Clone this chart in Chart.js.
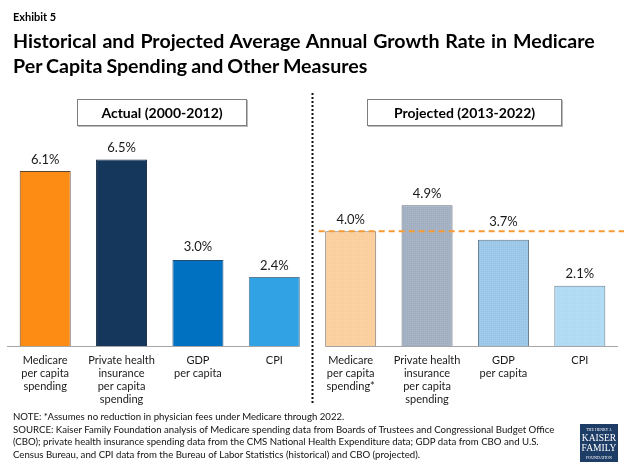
<!DOCTYPE html>
<html>
<head>
<meta charset="utf-8">
<script src="https://cdn.jsdelivr.net/npm/chart.js@4"></script>
<style>
    html, body { margin: 0; padding: 0; background: #fff; }
    #page { position: relative; width: 624px; height: 468px; overflow: hidden; font-family: Lato, sans-serif; color: #000; }
    #page canvas { position: absolute; left: 0; top: 0; }
    .txt { position: absolute; white-space: nowrap; }
    #exhibit { left: 13px; top: 10px; font-size: 11px; font-weight: 700; line-height: 14px; }
    #title { left: 13px; top: 28px; font-size: 19.6px; font-weight: 700; line-height: 25px; }
    .box { position: absolute; top: 99px; height: 25px; line-height: 25px; border: 1px solid #7f7f7f; box-shadow: 1px 1px 0 #bbb; text-align: center; font-size: 14px; font-weight: 700; background: #fff; }
    #note { left: 13px; top: 410px; font-size: 9.65px; line-height: 12.6px; color: #111; }
    #logo { position: absolute; left: 580px; top: 424px; width: 38px; height: 38px; background: #1d3c66; color: #fff; font-family: "Liberation Serif", serif; text-align: center; }
    #logo div { position: absolute; left: 0; width: 38px; white-space: nowrap; }
</style>
</head>
<body>
<div id="page">
    <canvas id="growth-chart" width="624" height="468"></canvas>
    <div class="txt" id="exhibit">Exhibit 5</div>
    <div class="txt" id="title"><span style="word-spacing:1.1px">Historical and Projected Average Annual Growth Rate in Medicare</span><br><span style="word-spacing:-0.7px">Per Capita Spending and Other Measures</span></div>
    <div class="box" style="left:77px;width:168px">Actual (2000-2012)</div>
    <div class="box" style="left:367px;width:193px">Projected (2013-2022)</div>
    <div class="txt" id="note">NOTE: *Assumes no reduction in physician fees under Medicare through 2022.<br>SOURCE: Kaiser Family Foundation analysis of Medicare spending data from Boards of Trustees and Congressional Budget Office<br>(CBO); private health insurance spending data from the CMS National Health Expenditure data; GDP data from CBO and U.S.<br>Census Bureau, and CPI data from the Bureau of Labor Statistics (historical) and CBO (projected).</div>
    <div id="logo">
        <div style="top:3px;font-size:4px">THE HENRY J.</div>
        <div style="top:9px;font-size:9.5px;line-height:10px">KAISER</div>
        <div style="top:19px;font-size:9.5px;line-height:10px">FAMILY</div>
        <div style="top:31px;font-size:4px">FOUNDATION</div>
    </div>
</div>
<script>
const categories = [
    ['Medicare', 'per capita', 'spending'],
    ['Private health', 'insurance', 'per capita', 'spending'],
    ['GDP', 'per capita'],
    'CPI',
    ['Medicare', 'per capita', 'spending*'],
    ['Private health', 'insurance', 'per capita', 'spending'],
    ['GDP', 'per capita'],
    'CPI'
];
const actualGrowth = [6.1, 6.5, 3.0, 2.4];
const projectedGrowth = [4.0, 4.9, 3.7, 2.1];
const referenceLine = 4.0;

const actualColors = ['#fd8c14', '#15375c', '#0070c0', '#31a2e3'];
const actualBorders = ['#5c4632', '#12263f', '#1f4e79', '#5b7c94'];
const projectedColors = ['#fdd09f', '#a3b1c3', '#9cc8e9', '#b2dcf5'];
const projectedBorders = ['#7d7d78', '#666f7a', '#5f7486', '#6a8090'];

// gap between bar top and its label; 3.7% sits higher to clear the dashed line
const labelLift = [11.5, 11.5, 13.5, 11.5, 11.5, 11.5, 17.5, 12];

// projected bars have a fine stipple over the base colour
function stipple(color) {
    const tile = document.createElement('canvas');
    tile.width = 2;
    tile.height = 2;
    const c = tile.getContext('2d');
    c.fillStyle = color;
    c.fillRect(0, 0, 2, 2);
    c.fillStyle = 'rgba(255, 255, 255, 0.07)';
    c.fillRect(0, 0, 1, 1);
    c.fillStyle = 'rgba(0, 0, 0, 0.02)';
    c.fillRect(1, 1, 1, 1);
    return c.createPattern(tile, 'repeat');
}

const annotations = {
    id: 'annotations',
    afterDatasetsDraw(chart) {
        const { ctx, scales: { x, y } } = chart;
        const bars = chart.getDatasetMeta(0).data;
        const base = y.getPixelForValue(0);
        ctx.save();

        // baseline, one piece per panel
        ctx.strokeStyle = '#a6a6a6';
        ctx.lineWidth = 1;
        ctx.beginPath();
        ctx.moveTo(chart.chartArea.left, base + 0.5);
        ctx.lineTo(bars[3].x + bars[3].width / 2, base + 0.5);
        ctx.moveTo(bars[4].x - bars[4].width / 2, base + 0.5);
        ctx.lineTo(chart.chartArea.right, base + 0.5);
        ctx.stroke();

        // value labels
        ctx.fillStyle = '#1a1a1a';
        ctx.font = '13px Lato';
        ctx.textAlign = 'center';
        ctx.textBaseline = 'middle';
        bars.forEach((bar, i) => {
            ctx.fillText(chart.data.datasets[0].data[i].toFixed(1) + '%', bar.x, bar.y - labelLift[i]);
        });

        // panel divider
        const mid = (bars[3].x + bars[4].x) / 2;
        ctx.strokeStyle = '#111';
        ctx.lineWidth = 2;
        ctx.setLineDash([2, 2]);
        ctx.beginPath();
        ctx.moveTo(mid, 93);
        ctx.lineTo(mid, 403);
        ctx.stroke();

        // medicare projected level
        const refY = y.getPixelForValue(referenceLine);
        ctx.strokeStyle = '#f79a33';
        ctx.lineWidth = 2;
        ctx.setLineDash([6, 4]);
        ctx.beginPath();
        ctx.moveTo(bars[4].x - 32, refY);
        ctx.lineTo(chart.width, refY);
        ctx.stroke();
        ctx.restore();
    }
};

const growthCanvas = document.getElementById('growth-chart');
const growthChart = new Chart(growthCanvas, {
    type: 'bar',
    data: {
        labels: categories,
        datasets: [{
            data: actualGrowth.concat(projectedGrowth),
            backgroundColor: actualColors.concat(projectedColors.map(stipple)),
            borderColor: actualBorders.concat(projectedBorders),
            borderWidth: 1,
            barPercentage: 0.668,
            categoryPercentage: 1
        }]
    },
    options: {
        responsive: false,
        animation: false,
        layout: {
            padding: { left: 7, right: 6, top: 116.4, bottom: 0 }
        },
        scales: {
            y: {
                display: false,
                min: 0,
                max: 8
            },
            x: {
                afterFit(scale) {
                    scale.height = 122;
                },
                border: { display: false },
                grid: { display: false },
                ticks: {
                    color: '#1a1a1a',
                    font: { family: 'Lato', size: 11, lineHeight: 1.18 },
                    padding: 0,
                    autoSkip: false,
                    maxRotation: 0,
                    minRotation: 0
                }
            }
        },
        plugins: {
            legend: { display: false },
            title: { display: false },
            tooltip: { enabled: false }
        }
    },
    plugins: [annotations]
});
</script>
</body>
</html>
